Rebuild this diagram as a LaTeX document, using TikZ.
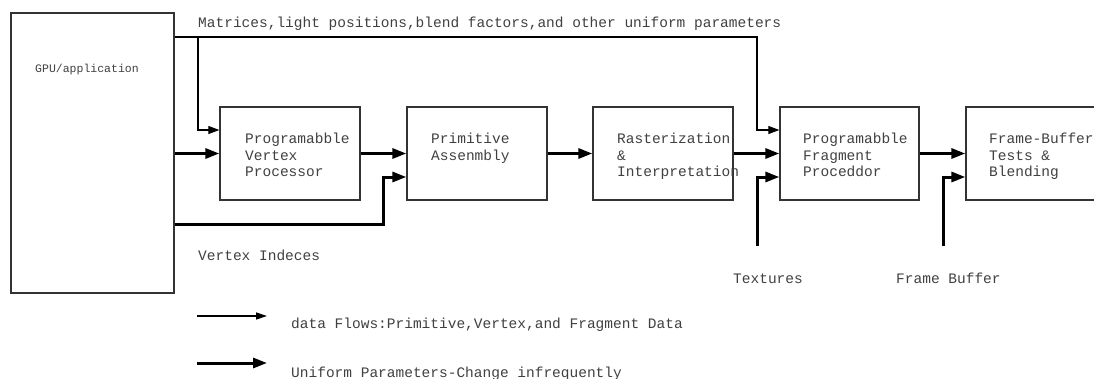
\documentclass[tikz,border=0pt]{standalone}
\usepackage{fontspec}
\setmonofont{Liberation Mono}
\usetikzlibrary{arrows.meta}
\begin{document}
\begin{tikzpicture}[x=1pt,y=-1pt,
  blk/.style={draw=black!80, line width=1.3pt, minimum width=#1, minimum height=93pt, inner sep=0pt},
  blk/.default=140pt,
  lbl/.style={font=\ttfamily\fontsize{14.5}{16.7}\selectfont, text=black!75, inner sep=0pt, anchor=base west, align=left},
  thickarr/.style={line width=3pt, -{Triangle[length=14pt,width=10pt]}},
  thinarr/.style={line width=1.1pt, -{Triangle[length=11pt,width=8pt]}},
]
\clip (0,0) rectangle (1094,378);
% boxes
\node[draw=black!80, line width=1.3pt, minimum width=163pt, minimum height=280pt, inner sep=0pt] (gpu) at (92.5,153) {};
\node[blk] (vtx) at (290,153.5) {};
\node[blk] (prim) at (477,153.5) {};
\node[blk] (ras) at (663,153.5) {};
\node[blk=139pt] (frag) at (849.5,153.5) {};
\node[blk] (fb) at (1036,153.5) {};
% box texts (base = last line)
\node[lbl] (tvtx) at (245,176.7) {Programabble\\Vertex\\Processor};
\node[lbl] (tprim) at (431,160) {Primitive\\Assenmbly};
\node[lbl] (tras) at (617,176.7) {Rasterization\\\&\\Interpretation};
\node[lbl] (tfrag) at (803,176.7) {Programabble\\Fragment\\Proceddor};
\node[lbl] (tfb) at (989,176.7) {Frame-Buffer\\Tests \&\\Blending};
% other labels
\node[lbl, font=\ttfamily\fontsize{11.5}{13}\selectfont] (tgpu) at (35,72.7) {GPU/application};
\node[lbl] (tmat) at (198,27.7) {Matrices,light positions,blend factors,and other uniform parameters};
\node[lbl] (tidx) at (198,260.7) {Vertex Indeces};
\node[lbl] (ttex) at (733,283.3) {Textures};
\node[lbl] (tfbuf) at (896,283.3) {Frame Buffer};
% coordinates
\coordinate (ubr) at (198,37);
\coordinate (ucor) at (757,37);
\coordinate (vcor) at (198,130);
\coordinate (fcor) at (757,130);
\coordinate (icor1) at (383,224);
\coordinate (icor2) at (383,177);
\coordinate (tex1) at (757,246);
\coordinate (tex2) at (757,177);
\coordinate (fb1) at (943,246);
\coordinate (fb2) at (943,177);
% uniform parameter lines (thin)
\draw[thinarr] (gpu.east |- ucor) -- (ucor) -- (fcor) -- (frag.west |- fcor);
\draw[thinarr] (ubr) -- (vcor) -- (vtx.west |- vcor);
% data flow (thick)
\draw[thickarr] (gpu.east |- vtx.west) -- (vtx.west);
\draw[thickarr] (vtx.east) -- (prim.west);
\draw[thickarr] (gpu.east |- icor1) -- (icor1) -- (icor2) -- (prim.west |- icor2);
\draw[thickarr] (prim.east) -- (ras.west);
\draw[thickarr] (ras.east) -- (frag.west);
\draw[thickarr] (tex1) -- (tex2) -- (frag.west |- tex2);
\draw[thickarr] (frag.east) -- (fb.west);
\draw[thickarr] (fb1) -- (fb2) -- (fb.west |- fb2);
% legend
\coordinate (la1) at (197,316);
\coordinate (la2) at (267,316);
\coordinate (lb1) at (197,363);
\coordinate (lb2) at (267,363);
\draw[line width=1.3pt, -{Triangle[length=11pt,width=7pt]}] (la1) -- (la2);
\draw[thickarr] (lb1) -- (lb2);
\node[lbl] (tleg1) at (291,328.7) {data Flows:Primitive,Vertex,and Fragment Data};
\node[lbl] (tleg2) at (291,377) {Uniform Parameters-Change infrequently};
\end{tikzpicture}
\end{document}
